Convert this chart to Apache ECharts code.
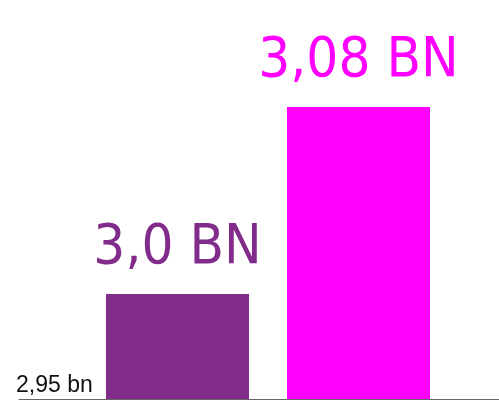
<!DOCTYPE html>
<html>
<head>
<meta charset="utf-8">
<script src="https://cdn.jsdelivr.net/npm/echarts@6/dist/echarts.min.js"></script>
<style>
html,body{margin:0;padding:0;background:#fff;}
#main{width:499px;height:402px;}
</style>
</head>
<body>
<div id="main"></div>
<script>
// data
var categories = ['Before', 'After'];
var values = [3.0, 3.089];
var valueLabels = ['3,0 BN', '3,08 BN'];
var barColors = ['#812b8b', '#ff00ff'];
var axisMin = 2.95;
var axisMax = 3.14;
var tickLabel = '2,95 bn';

var barData = [];
for (var i = 0; i < values.length; i++) {
    barData.push({
        value: values[i],
        itemStyle: { color: barColors[i] },
        label: { color: barColors[i], formatter: valueLabels[i] }
    });
}

var myChart = echarts.init(document.getElementById('main'));
var option = {
    animation: false,
    grid: [
        { left: 87, right: 50, top: 0, bottom: 3 },
        { left: 19, right: 0, top: 0, bottom: 3 }
    ],
    xAxis: [
        {
            type: 'category',
            gridIndex: 0,
            data: categories,
            axisLine: { show: false },
            axisTick: { show: false },
            axisLabel: { show: false }
        },
        {
            type: 'category',
            gridIndex: 1,
            data: [''],
            axisLine: { show: true, lineStyle: { color: '#666', width: 1 } },
            axisTick: { show: false },
            axisLabel: { show: false }
        }
    ],
    yAxis: [
        {
            type: 'value',
            gridIndex: 0,
            min: axisMin,
            max: axisMax,
            show: false
        },
        {
            type: 'value',
            gridIndex: 1,
            min: axisMin,
            max: axisMax,
            interval: 0.05,
            axisLine: { show: false },
            axisTick: { show: false },
            splitLine: { show: false },
            axisLabel: {
                inside: true,
                margin: -3,
                fontFamily: 'Liberation Sans',
                fontSize: 23,
                color: '#111',
                verticalAlign: 'bottom',
                padding: [0, 0, 2, 0],
                formatter: function (v) {
                    return Math.abs(v - axisMin) < 1e-6 ? tickLabel : '';
                }
            }
        }
    ],
    series: [
        {
            type: 'bar',
            xAxisIndex: 0,
            yAxisIndex: 0,
            barWidth: 143,
            data: barData,
            label: {
                show: true,
                position: 'top',
                distance: 18,
                fontFamily: "'DejaVu Sans Condensed', sans-serif",
                fontSize: 56
            }
        }
    ]
};
myChart.setOption(option);
</script>
</body>
</html>
